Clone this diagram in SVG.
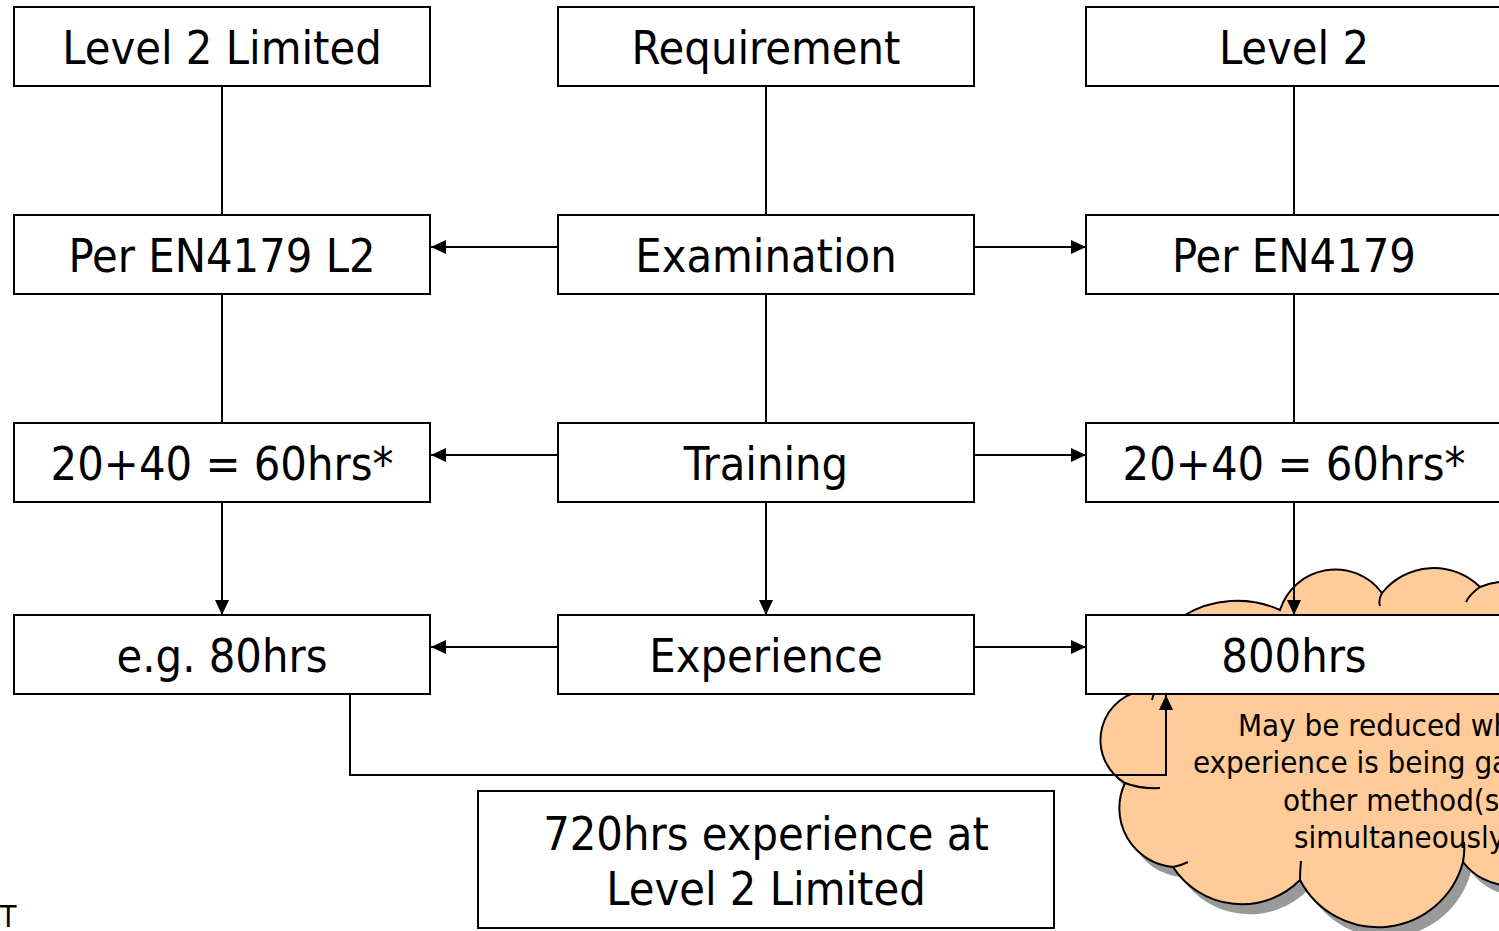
<svg xmlns="http://www.w3.org/2000/svg" width="1499" height="931" viewBox="0 0 1499 931">
<style>
.box{fill:#fff;stroke:#000;stroke-width:2}
.t{font-family:"DejaVu Sans Condensed","DejaVu Sans",sans-serif;font-size:46.5px;fill:#000;text-anchor:middle}
.c{font-family:"DejaVu Sans Condensed","DejaVu Sans",sans-serif;font-size:31px;fill:#000}
.ln{fill:none;stroke:#000;stroke-width:2}
</style>
<defs>
<marker id="ah" markerUnits="userSpaceOnUse" markerWidth="16" markerHeight="14" refX="15" refY="7" orient="auto">
<path d="M0,0 L15,7 L0,14 Z" fill="#000"/>
</marker>
<path id="cloudShape" d="M1125 783 A50 50 0 0 1 1150 690 L1183 616 A104 104 0 0 1 1280 610 A58 58 0 0 1 1382 593 A66 66 0 0 1 1480 587 A60 60 0 0 1 1560 620 L1560 860 A60 60 0 0 1 1463 862 A88 88 0 0 1 1300 880 A82 82 0 0 1 1173 867 A59 59 0 0 1 1125 783 Z"/>
</defs>
<g id="cloud">
<use href="#cloudShape" transform="translate(8,10)" fill="#999"/>
<use href="#cloudShape" fill="#FFCC99" stroke="#000" stroke-width="2"/>
<path class="ln" d="M1382 593 Q1378 600 1380 606 M1480 587 Q1470 594 1466 602 M1125 783 Q1140 789 1160 788 M1173 867 Q1180 866 1188 862 M1300 880 Q1300 870 1301 861 M1463 862 Q1465 850 1464 842 M1152 700 Q1153 695 1155 692"/>
<text class="c" x="1238" y="736">May be reduced when</text>
<text class="c" x="1193" y="773">experience is being gained by</text>
<text class="c" x="1283" y="811">other method(s)</text>
<text class="c" x="1294" y="848">simultaneously</text>
</g>
<g id="connectors">
<path class="ln" d="M222 86 V215 M222 294 V423 M766 86 V215 M766 294 V423 M1294 86 V215 M1294 294 V423"/>
<path class="ln" marker-end="url(#ah)" d="M222 502 V615"/>
<path class="ln" marker-end="url(#ah)" d="M766 502 V615"/>
<path class="ln" marker-end="url(#ah)" d="M1294 502 V615"/>
<path class="ln" marker-end="url(#ah)" d="M558 247 H431"/>
<path class="ln" marker-end="url(#ah)" d="M974 247 H1086"/>
<path class="ln" marker-end="url(#ah)" d="M558 455 H431"/>
<path class="ln" marker-end="url(#ah)" d="M974 455 H1086"/>
<path class="ln" marker-end="url(#ah)" d="M558 647 H431"/>
<path class="ln" marker-end="url(#ah)" d="M974 647 H1086"/>
<path class="ln" marker-end="url(#ah)" d="M350 694 V775 H1166 V695"/>
</g>
<g id="n1"><rect class="box" x="14" y="7" width="416" height="79"/><text class="t" x="222" y="64">Level 2 Limited</text></g>
<g id="n2"><rect class="box" x="558" y="7" width="416" height="79"/><text class="t" x="766" y="64">Requirement</text></g>
<g id="n3"><rect class="box" x="1086" y="7" width="416" height="79"/><text class="t" x="1294" y="64">Level 2</text></g>
<g id="n4"><rect class="box" x="14" y="215" width="416" height="79"/><text class="t" x="222" y="272">Per EN4179 L2</text></g>
<g id="n5"><rect class="box" x="558" y="215" width="416" height="79"/><text class="t" x="766" y="272">Examination</text></g>
<g id="n6"><rect class="box" x="1086" y="215" width="416" height="79"/><text class="t" x="1294" y="272">Per EN4179</text></g>
<g id="n7"><rect class="box" x="14" y="423" width="416" height="79"/><text class="t" x="222" y="480">20+40 = 60hrs*</text></g>
<g id="n8"><rect class="box" x="558" y="423" width="416" height="79"/><text class="t" x="766" y="480">Training</text></g>
<g id="n9"><rect class="box" x="1086" y="423" width="416" height="79"/><text class="t" x="1294" y="480">20+40 = 60hrs*</text></g>
<g id="n10"><rect class="box" x="14" y="615" width="416" height="79"/><text class="t" x="222" y="672">e.g. 80hrs</text></g>
<g id="n11"><rect class="box" x="558" y="615" width="416" height="79"/><text class="t" x="766" y="672">Experience</text></g>
<g id="n12"><rect class="box" x="1086" y="615" width="416" height="79"/><text class="t" x="1294" y="672">800hrs</text></g>
<g id="n13"><rect class="box" x="478" y="791" width="576" height="137"/><text class="t" x="766" y="850">720hrs experience at</text><text class="t" x="766" y="905">Level 2 Limited</text></g>
<text x="0" y="927" style="font-family:'DejaVu Sans Condensed','DejaVu Sans',sans-serif;font-size:30px;fill:#000">T</text>
</svg>
